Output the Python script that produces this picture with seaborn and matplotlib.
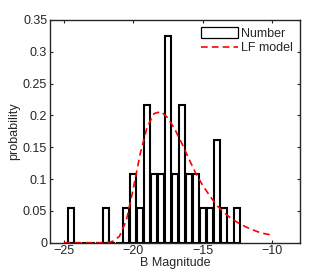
import matplotlib
matplotlib.use('Agg')
import matplotlib.pyplot as plt
import seaborn as sns
import pandas as pd
from matplotlib.patches import Patch
from matplotlib.lines import Line2D

# histogram: bin centres (B magnitude) and number of objects per bin
bin_centres = [-24.5, -22.0, -20.5, -20.0, -19.5, -19.0, -18.5, -18.0, -17.5,
               -17.0, -16.5, -16.0, -15.5, -15.0, -14.5, -14.0, -13.5, -12.5]
bin_counts = [1, 1, 1, 2, 1, 4, 2, 2, 6, 2, 4, 2, 2, 1, 1, 3, 1, 1]

# luminosity function model
lf_mag = [-25.0, -24.0, -23.0, -22.0, -21.5, -21.0, -20.5, -20.0, -19.5, -19.0,
          -18.5, -18.0, -17.5, -17.0, -16.5, -16.0, -15.5, -15.0, -14.5, -14.0,
          -13.5, -13.0, -12.5, -12.0, -11.5, -11.0, -10.5, -10.0]
lf_prob = [0.0, 0.0, 0.0, 0.0, 0.002, 0.01, 0.035, 0.085, 0.14, 0.182,
           0.203, 0.206, 0.196, 0.178, 0.156, 0.132, 0.109, 0.09, 0.074, 0.059,
           0.048, 0.039, 0.032, 0.026, 0.021, 0.017, 0.014, 0.012]

df_hist = pd.DataFrame({'mag': bin_centres, 'n': bin_counts})
df_lf = pd.DataFrame({'mag': lf_mag, 'prob': lf_prob})

sns.set_style('ticks')
plt.rcParams['font.family'] = ['Liberation Sans', 'DejaVu Sans']
plt.rcParams['xtick.direction'] = 'in'
plt.rcParams['ytick.direction'] = 'in'

fig = plt.figure(figsize=(3.31, 2.76), dpi=100)
ax = fig.add_axes([0.151, 0.1206, 0.755, 0.807])

sns.histplot(data=df_hist, x='mag', weights='n', stat='density',
             binwidth=0.5, binrange=(-24.75, -12.25), shrink=0.86,
             color='white', edgecolor='black', linewidth=1.5, alpha=1,
             ax=ax)

sns.lineplot(data=df_lf, x='mag', y='prob', color='red', linewidth=1.2,
             dashes=False, ax=ax)
ax.lines[-1].set_dashes((4, 2.5))

ax.set_xlim(-26, -8)
ax.set_ylim(0, 0.35)
ax.set_xticks([-25, -20, -15, -10])
ax.set_yticks([0, 0.05, 0.1, 0.15, 0.2, 0.25, 0.3, 0.35])
ax.set_yticklabels(['0', '0.05', '0.1', '0.15', '0.2', '0.25', '0.3', '0.35'])
ax.tick_params(top=True, right=True, length=2.5, width=0.8, labelsize=9, pad=2)
for s in ax.spines.values():
    s.set_linewidth(1.0)

ax.set_xlabel('B Magnitude', fontsize=9, labelpad=0)
ax.set_ylabel('probability', fontsize=9, labelpad=2)

handles = [Patch(facecolor='white', edgecolor='black', linewidth=0.9),
           Line2D([0], [0], color='red', linewidth=1.2, dashes=(4, 2.5))]
ax.legend(handles, ['Number', 'LF model'], loc='upper right', frameon=False,
          fontsize=9, handlelength=3.0, handleheight=0.9, handletextpad=0.2,
          labelspacing=0.15, borderaxespad=0.2)

fig.savefig('out.png', dpi=100)
